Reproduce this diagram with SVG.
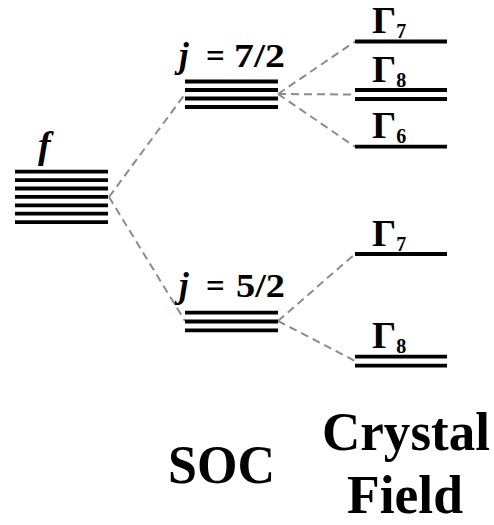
<svg xmlns="http://www.w3.org/2000/svg" width="494" height="525" viewBox="0 0 494 525">
<style>
.lv{stroke:#000;stroke-width:3.8;fill:none}
.cn{stroke:#8c8c8c;stroke-width:2;stroke-dasharray:8 5;fill:none}
.t{font-family:"Liberation Serif","Times New Roman",serif;font-weight:bold;fill:#000}
.it{font-style:italic}
</style>
<rect width="494" height="525" fill="#fff"/>
<g id="connectors">
<line class="cn" x1="109" y1="197" x2="185" y2="94"/>
<line class="cn" x1="109" y1="197" x2="185" y2="321"/>
<line class="cn" x1="278" y1="94" x2="355" y2="41.5"/>
<line class="cn" x1="278" y1="94" x2="355" y2="94.5"/>
<line class="cn" x1="278" y1="94" x2="355" y2="146.7"/>
<line class="cn" x1="278" y1="321" x2="355" y2="254"/>
<line class="cn" x1="278" y1="321" x2="355" y2="361"/>
</g>
<g id="node-f">
<text class="t it" x="38" y="158" font-size="38">f</text>
<path class="lv" d="M15 171.7H108M15 180.1H108M15 188.5H108M15 196.9H108M15 205.3H108M15 213.7H108M15 222.1H108"/>
</g>
<g id="node-j72">
<text class="t it" x="179" y="67" font-size="35">j</text>
<text class="t" x="206" y="67" font-size="33">=</text>
<text class="t" x="234" y="67" font-size="33" textLength="51" lengthAdjust="spacingAndGlyphs">7/2</text>
<path class="lv" d="M185 81.5H278M185 90H278M185 98.5H278M185 107H278"/>
</g>
<g id="node-j52">
<text class="t it" x="179" y="297" font-size="35">j</text>
<text class="t" x="206" y="297" font-size="33">=</text>
<text class="t" x="236" y="297" font-size="33" textLength="49" lengthAdjust="spacingAndGlyphs">5/2</text>
<path class="lv" d="M185 312.7H278M185 321.5H278M185 330.3H278"/>
</g>
<g id="node-g7a">
<text class="t" x="372" y="33" font-size="38">Γ<tspan font-size="20" dy="5">7</tspan></text>
<path class="lv" d="M355 41.5H447"/>
</g>
<g id="node-g8a">
<text class="t" x="372" y="82" font-size="38">Γ<tspan font-size="20" dy="5">8</tspan></text>
<path class="lv" d="M355 90H447M355 99H447"/>
</g>
<g id="node-g6">
<text class="t" x="372" y="138" font-size="38">Γ<tspan font-size="20" dy="5">6</tspan></text>
<path class="lv" d="M355 146.7H447"/>
</g>
<g id="node-g7b">
<text class="t" x="372" y="245.5" font-size="38">Γ<tspan font-size="20" dy="5">7</tspan></text>
<path class="lv" d="M355 254H447"/>
</g>
<g id="node-g8b">
<text class="t" x="372" y="348" font-size="38">Γ<tspan font-size="20" dy="5">8</tspan></text>
<path class="lv" d="M355 356.7H447M355 365.7H447"/>
</g>
<g id="label-soc">
<text class="t" x="168" y="483" font-size="54" textLength="107" lengthAdjust="spacingAndGlyphs">SOC</text>
</g>
<g id="label-cf">
<text class="t" x="322" y="450" font-size="54" textLength="168" lengthAdjust="spacingAndGlyphs">Crystal</text>
<text class="t" x="347" y="513" font-size="54" textLength="116" lengthAdjust="spacingAndGlyphs">Field</text>
</g>
</svg>
